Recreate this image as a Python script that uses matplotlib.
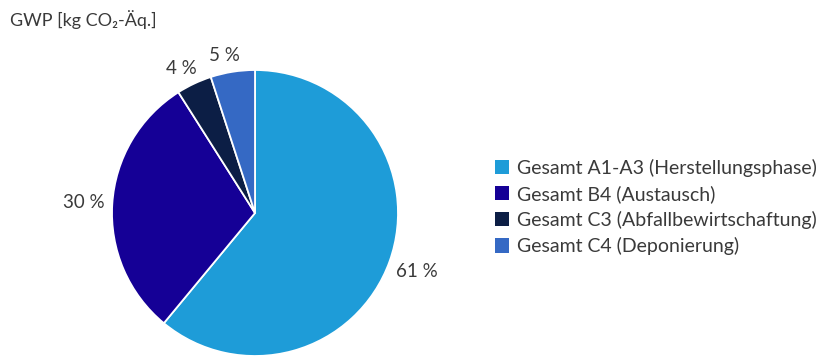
import matplotlib.pyplot as plt
from matplotlib.patches import Patch

plt.rcParams['font.family'] = ['Lato', 'DejaVu Sans']

phases = ["Gesamt A1-A3 (Herstellungsphase)", "Gesamt B4 (Austausch)",
          "Gesamt C3 (Abfallbewirtschaftung)", "Gesamt C4 (Deponierung)"]
shares = [61, 30, 4, 5]
colors = ["#1E9CD8", "#150096", "#0C1E45", "#3569C4"]
text_col = "#3a3a3a"

fig = plt.figure(figsize=(8.27, 3.56), dpi=100)
fig.text(10 / 827, 1 - 20 / 356, "GWP [kg CO\u2082-Äq.]", fontsize=13,
         color=text_col, va="center", ha="left")

# pie axes: square, centered at (255, 213) px
r = 143
ax = fig.add_axes([(255 - r) / 827, (356 - 213 - r) / 356, 2 * r / 827, 2 * r / 356])
wedges, texts = ax.pie(shares, colors=colors, startangle=90, counterclock=False,
                       labels=[f"{v} %" for v in shares], labeldistance=1.2,
                       wedgeprops=dict(edgecolor="white", linewidth=1.3),
                       textprops=dict(fontsize=13.5, color=text_col))
for t in texts:
    t.set_ha("center")
    t.set_va("center")
# small slices: labels sit a bit closer to the rim
for t in texts[2:]:
    x, y = t.get_position()
    t.set_position((x * 0.93 - 0.04, y * 0.93))
ax.set_xlim(-1, 1)
ax.set_ylim(-1, 1)
ax.set_aspect("equal")

handles = [Patch(facecolor=c, edgecolor="none") for c in colors]
fig.legend(handles, phases, loc="center left", bbox_to_anchor=(487 / 827, 1 - 207 / 356),
           frameon=False, fontsize=14, labelcolor=text_col, handlelength=0.75,
           handleheight=0.75, handletextpad=0.4, labelspacing=0.42, borderaxespad=0)

fig.savefig("out.png", dpi=100)
